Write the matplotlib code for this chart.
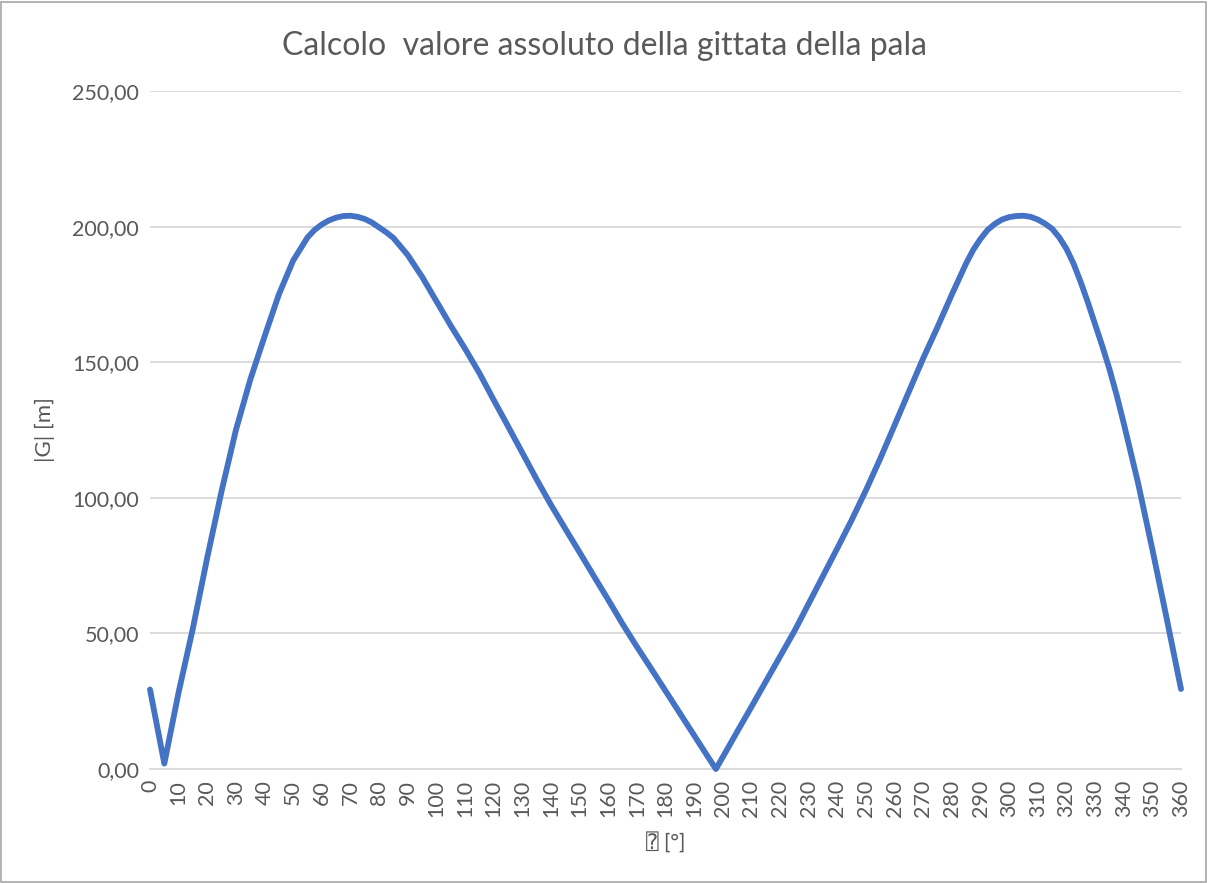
import matplotlib
matplotlib.use("Agg")
import matplotlib.pyplot as plt
from matplotlib.ticker import FuncFormatter, MultipleLocator
from matplotlib.patches import Rectangle

# angle in degrees
theta = [0, 5, 10, 15, 20, 25, 30, 35, 40, 45, 50, 55, 57.5, 60, 62.5, 65, 67.5, 70,
         72.5, 75, 77.5, 80, 82.5, 85, 90, 95, 100, 105, 110, 115, 120, 125, 130,
         135, 140, 145, 150, 155, 160, 165, 170, 175, 180, 185, 190, 195, 197.6,
         200, 205, 210, 215, 220, 225, 230, 235, 240, 245, 250, 255, 260, 265, 270,
         275, 280, 285, 287.5, 290, 292.5, 295, 297.5, 300, 302.5, 305, 307.5, 310,
         312.5, 315, 317.5, 320, 322.5, 325, 327.5, 330, 332.5, 335, 337.5, 340,
         345, 350, 355, 360]
# |G| [m]
gittata = [29.3, 2.0, 28.3, 52.0, 78.0, 102.5, 125.0, 143.5, 159.5, 175.0, 187.5,
           196.0, 198.8, 200.8, 202.3, 203.3, 203.9, 204.0, 203.6, 202.8, 201.5,
           199.7, 197.9, 195.8, 189.5, 181.5, 172.5, 163.5, 155.0, 146.0, 136.1,
           126.4, 116.6, 106.8, 97.4, 88.6, 79.9, 71.1, 62.4, 53.5, 45.1, 37.0,
           28.8, 20.6, 12.4, 4.2, 0.0, 4.4, 13.7, 22.9, 32.2, 41.5, 50.8, 61.0,
           71.2, 81.4, 91.8, 102.8, 114.5, 126.8, 139.2, 151.5, 163.0, 175.0,
           186.5, 191.5, 195.5, 198.8, 201.0, 202.6, 203.5, 203.9, 204.0, 203.6,
           202.6, 201.1, 199.2, 196.0, 191.8, 186.3, 179.5, 172.0, 164.0, 156.0,
           147.5, 138.0, 127.5, 105.5, 81.0, 55.5, 29.5]

x_ticks = list(range(0, 361, 10))
title = "Calcolo  valore assoluto della gittata della pala"
xlabel = "\u2370 [°]"
ylabel = "|G| [m]"

plt.rcParams['font.family'] = ['Lato', 'DejaVu Sans', 'DejaVu Sans Mono', 'Noto Sans']

fig = plt.figure(figsize=(12.08, 8.83), dpi=100)
ax = fig.add_axes([150/1208, 1-769/883, (1181-150)/1208, (769-91)/883])

ax.plot(theta, gittata, color='#4472C4', linewidth=4.2, solid_joinstyle='round',
        solid_capstyle='round', zorder=3, clip_on=False)

ax.set_xlim(0, 360)
ax.set_ylim(0, 250)
ax.set_xticks(x_ticks)
ax.set_xticklabels([str(t) for t in x_ticks], rotation=90)
ax.yaxis.set_major_locator(MultipleLocator(50))
ax.yaxis.set_major_formatter(FuncFormatter(lambda v, p: f"{v:.2f}".replace('.', ',')))

ax.grid(axis='y', color='#d9d9d9', linewidth=1.3)
ax.set_axisbelow(True)
for s in ['top', 'right', 'left']:
    ax.spines[s].set_visible(False)
ax.spines['bottom'].set_color('#d9d9d9')
ax.spines['bottom'].set_linewidth(1.3)
ax.tick_params(axis='both', length=0, labelsize=15.5, colors='#595959', pad=8)

fig.text(0.5, 1-46/883, title, fontsize=23, color='#595959', ha='center', va='center')
ax.set_xlabel(xlabel, fontsize=15, color='#595959', labelpad=10)
ax.set_ylabel(ylabel, fontsize=16, color='#595959', labelpad=12)

fig.patches.append(Rectangle((0.001, 0.001), 0.997, 0.997, transform=fig.transFigure,
                             fill=False, edgecolor='#a6a6a6', linewidth=1.2))

fig.savefig("out.png", dpi=100, facecolor='white')
